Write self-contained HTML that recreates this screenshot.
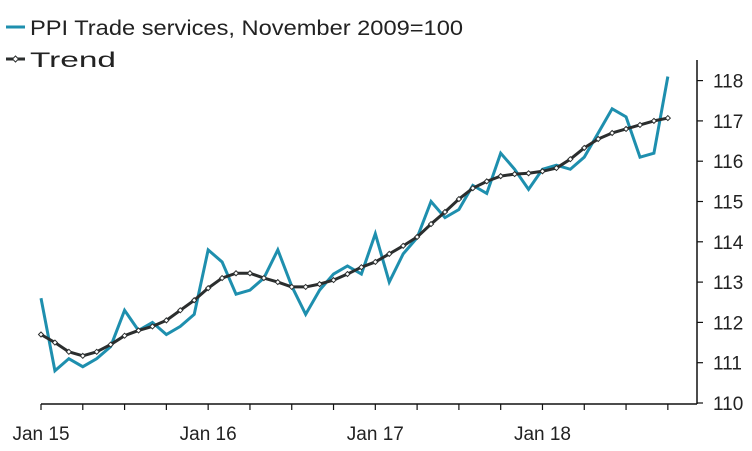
<!DOCTYPE html>
<html><head><meta charset="utf-8"><style>
html,body{margin:0;padding:0;background:#fff;}
svg{display:block;font-family:"Liberation Sans",sans-serif;}
</style></head><body>
<svg id="chart" width="752" height="451">
<g>
<line x1="6" y1="27" x2="25" y2="27" stroke="#1e8fae" stroke-width="3"/>
<text x="30" y="35" font-size="21" fill="#222" textLength="433" lengthAdjust="spacingAndGlyphs">PPI Trade services,  November 2009=100</text>
<line x1="6" y1="59" x2="25" y2="59" stroke="#2b2e2e" stroke-width="3"/>
<path d="M15.5,56 L18.5,59 L15.5,62 L12.5,59 Z" fill="#fff" stroke="#2b2e2e" stroke-width="1"/>
<text x="30" y="67" font-size="21" fill="#222" textLength="86" lengthAdjust="spacingAndGlyphs">Trend</text>
</g>
<g id="axes"></g>
<g id="series"></g>
</svg>
<script>
const ppi=[112.6,110.8,111.1,110.9,111.1,111.4,112.3,111.8,112.0,111.7,111.9,112.2,
113.8,113.5,112.7,112.8,113.1,113.8,112.9,112.2,112.8,113.2,113.4,113.2,
114.2,113.0,113.7,114.1,115.0,114.6,114.8,115.4,115.2,116.2,115.8,115.3,
115.8,115.9,115.8,116.1,116.7,117.3,117.1,116.1,116.2,118.1];
const trend=[111.7,111.5,111.27,111.17,111.27,111.45,111.67,111.8,111.9,112.05,112.3,112.55,
112.85,113.1,113.22,113.22,113.1,113.0,112.88,112.88,112.95,113.05,113.2,113.37,
113.5,113.7,113.9,114.12,114.44,114.74,115.06,115.33,115.5,115.63,115.68,115.7,
115.75,115.83,116.05,116.33,116.55,116.7,116.8,116.9,117.0,117.07];
const yTicks=[110,111,112,113,114,115,116,117,118];
const xLabels=["Jan 15","Jan 16","Jan 17","Jan 18"];
const xLabelIdx=[0,12,24,36];
const NS="http://www.w3.org/2000/svg";
const x=i=>41+i*13.93;
const y=v=>403-(v-110)*40.3;
function mk(tag,attrs,parent){const e=document.createElementNS(NS,tag);for(const k in attrs)e.setAttribute(k,attrs[k]);parent.appendChild(e);return e;}
const ax=document.getElementById('axes'),se=document.getElementById('series');
let e=mk('line',{x1:41,y1:404,x2:697,y2:404,stroke:'#111','stroke-width':1.5},ax);


e=mk('line',{x1:697,y1:60,x2:697,y2:404,stroke:'#111','stroke-width':1.5},ax);


for(let i=0;i<=45;i+=3){
 e=mk('line',{x1:x(i),y1:404,x2:x(i),y2:410,stroke:'#111','stroke-width':1.2},ax);
 
 
}
xLabels.forEach((l,j)=>{
 e=mk('text',{x:x(xLabelIdx[j]),y:440,'font-size':19,'text-anchor':'middle',fill:'#222'},ax);
 e.textContent=l;
 
 
});
yTicks.forEach(v=>{
 e=mk('line',{x1:697,y1:y(v),x2:703,y2:y(v),stroke:'#111','stroke-width':1.2},ax);
 
 
 e=mk('text',{x:713,y:y(v)+7,'font-size':19,fill:'#222'},ax);
 e.textContent=v;
 
 
});
e=mk('polyline',{points:ppi.map((v,i)=>x(i)+','+y(v)).join(' '),fill:'none',stroke:'#1e8fae','stroke-width':3,'stroke-linejoin':'miter'},se);


e=mk('polyline',{points:trend.map((v,i)=>x(i)+','+y(v)).join(' '),fill:'none',stroke:'#2b2e2e','stroke-width':3,'stroke-linejoin':'round'},se);


trend.forEach((v,i)=>{
 const cx=x(i),cy=y(v);
 e=mk('path',{d:`M${cx},${cy-2.5} L${cx+2.5},${cy} L${cx},${cy+2.5} L${cx-2.5},${cy} Z`,fill:'#fff',stroke:'#2b2e2e','stroke-width':1},se);
 
 
});
</script>
</body></html>
